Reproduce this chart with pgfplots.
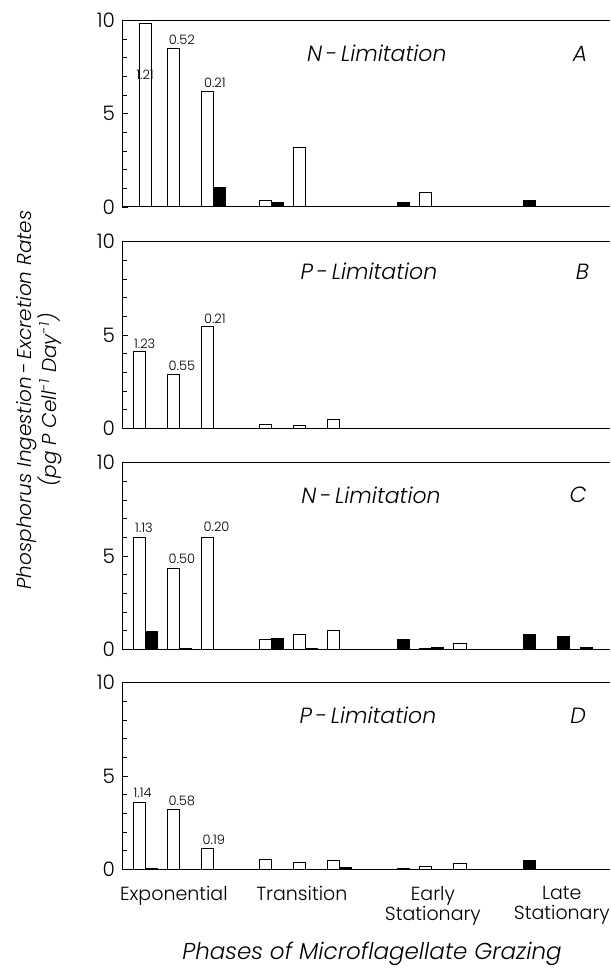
\documentclass[border=0pt]{standalone}
\usepackage{fontspec}
\setmainfont{Poppins}[UprightFont={* Light}, ItalicFont={* Light Italic}]
\usepackage{pgfplots}
\pgfplotsset{compat=1.18}

% one panel: bottom edge given in pt, page is 305pt x 484pt
\pgfplotsset{
  panel/.style={
    at={(61pt,#1)}, anchor=south west,
    width=244pt, height=93.3pt, scale only axis,
    xmin=-0.32, xmax=13.87, ymin=0, ymax=10,
    axis x line=box, axis y line=left,
    axis line style={-, line width=0.5pt},
    ytick={0,5,10}, minor ytick={1,2,3,4,6,7,8,9},
    tick align=inside, major tick length=3pt, minor tick length=2.5pt,
    tick style={line width=0.4pt, black},
    yticklabel style={font=\fontsize{10}{10}\selectfont},
    /pgf/number format/assume math mode=true,
    xtick=\empty,
    ybar, bar width=0.35, bar shift=0pt,
    clip=false,
  },
  wbar/.style={draw=black, fill=white, line width=0.5pt},
  kbar/.style={draw=black, fill=black, line width=0.5pt},
}
\tikzset{
  lim/.style={font=\fontsize{11}{11}\selectfont\itshape},
  val/.style={font=\fontsize{6.5}{6.5}\selectfont, inner sep=0pt},
}

\begin{document}
\begin{tikzpicture}
\path[use as bounding box] (0,0) rectangle (305pt,484pt);

% A
\begin{axis}[panel=380.5pt]
\addplot[wbar] coordinates {(0.35,9.82) (1.175,8.52) (2.175,6.17) (3.842,0.36) (4.842,3.2) (7.508,0.05) (8.508,0.75)};
\addplot[kbar] coordinates {(2.525,1.03) (4.192,0.25) (7.858,0.22) (11.525,0.36)};
\node[lim] at (axis cs:7.09,8.23) {N\,-\,Limitation};
\node[lim] at (axis cs:13.0,8.23) {A};
\node[val] at (axis cs:0.35,7.1) {1.21};
\node[val] at (axis cs:1.42,8.98) {0.52};
\node[val] at (axis cs:2.38,6.68) {0.21};
\end{axis}

% B
\begin{axis}[panel=269.85pt]
\addplot[wbar] coordinates {(0.175,4.1) (1.175,2.9) (2.175,5.44) (3.842,0.2) (4.842,0.15) (5.842,0.45)};
\node[lim] at (axis cs:6.86,8.39) {P\,-\,Limitation};
\node[lim] at (axis cs:13.07,8.39) {B};
\node[val] at (axis cs:0.34,4.52) {1.23};
\node[val] at (axis cs:1.42,3.35) {0.55};
\node[val] at (axis cs:2.38,5.85) {0.21};
\end{axis}

% C
\begin{axis}[panel=159.35pt]
\addplot[wbar] coordinates {(0.175,6.0) (1.175,4.34) (2.175,6.0) (3.842,0.5) (4.842,0.8) (5.842,1.0) (8.508,0.05) (9.508,0.32)};
\addplot[kbar] coordinates {(0.525,0.94) (1.525,0.05) (4.192,0.59) (5.192,0.05) (7.858,0.54) (8.858,0.1) (11.525,0.77) (12.525,0.66) (13.175,0.1)};
\node[lim] at (axis cs:6.92,8.26) {N\,-\,Limitation};
\node[lim] at (axis cs:12.94,8.26) {C};
\node[val] at (axis cs:0.32,6.5) {1.13};
\node[val] at (axis cs:1.42,4.84) {0.50};
\node[val] at (axis cs:2.43,6.55) {0.20};
\end{axis}

% D
\begin{axis}[panel=49.35pt,
  xtick={1.19,4.91,8.72,12.47},
  xticklabels={Exponential,Transition,Early\\Stationary,Late\\Stationary},
  xtick pos=bottom, major x tick style={draw=none},
  xticklabel style={font=\fontsize{9.5}{10}\selectfont, align=center, yshift=-2pt}]
\addplot[wbar] coordinates {(0.175,3.6) (1.175,3.2) (2.175,1.13) (3.842,0.5) (4.842,0.36) (5.842,0.47) (8.508,0.15) (9.508,0.3)};
\addplot[kbar] coordinates {(0.525,0.03) (6.192,0.08) (7.858,0.05) (11.525,0.45)};
\node[lim] at (axis cs:6.83,8.24) {P\,-\,Limitation};
\node[lim] at (axis cs:12.94,8.24) {D};
\node[val] at (axis cs:0.28,4.1) {1.14};
\node[val] at (axis cs:1.42,3.65) {0.58};
\node[val] at (axis cs:2.35,1.58) {0.19};
\end{axis}

\node[rotate=90, align=center, font=\fontsize{10}{12.5}\selectfont\itshape] at (19.5pt,284pt)
  {Phosphorus Ingestion\,-\,Excretion Rates\\(pg P Cell\textsuperscript{-1} Day\textsuperscript{-1})};
\node[font=\fontsize{11.5}{12}\selectfont\itshape, inner sep=0pt] at (186pt,7pt) {Phases of Microflagellate Grazing};
\end{tikzpicture}
\end{document}
